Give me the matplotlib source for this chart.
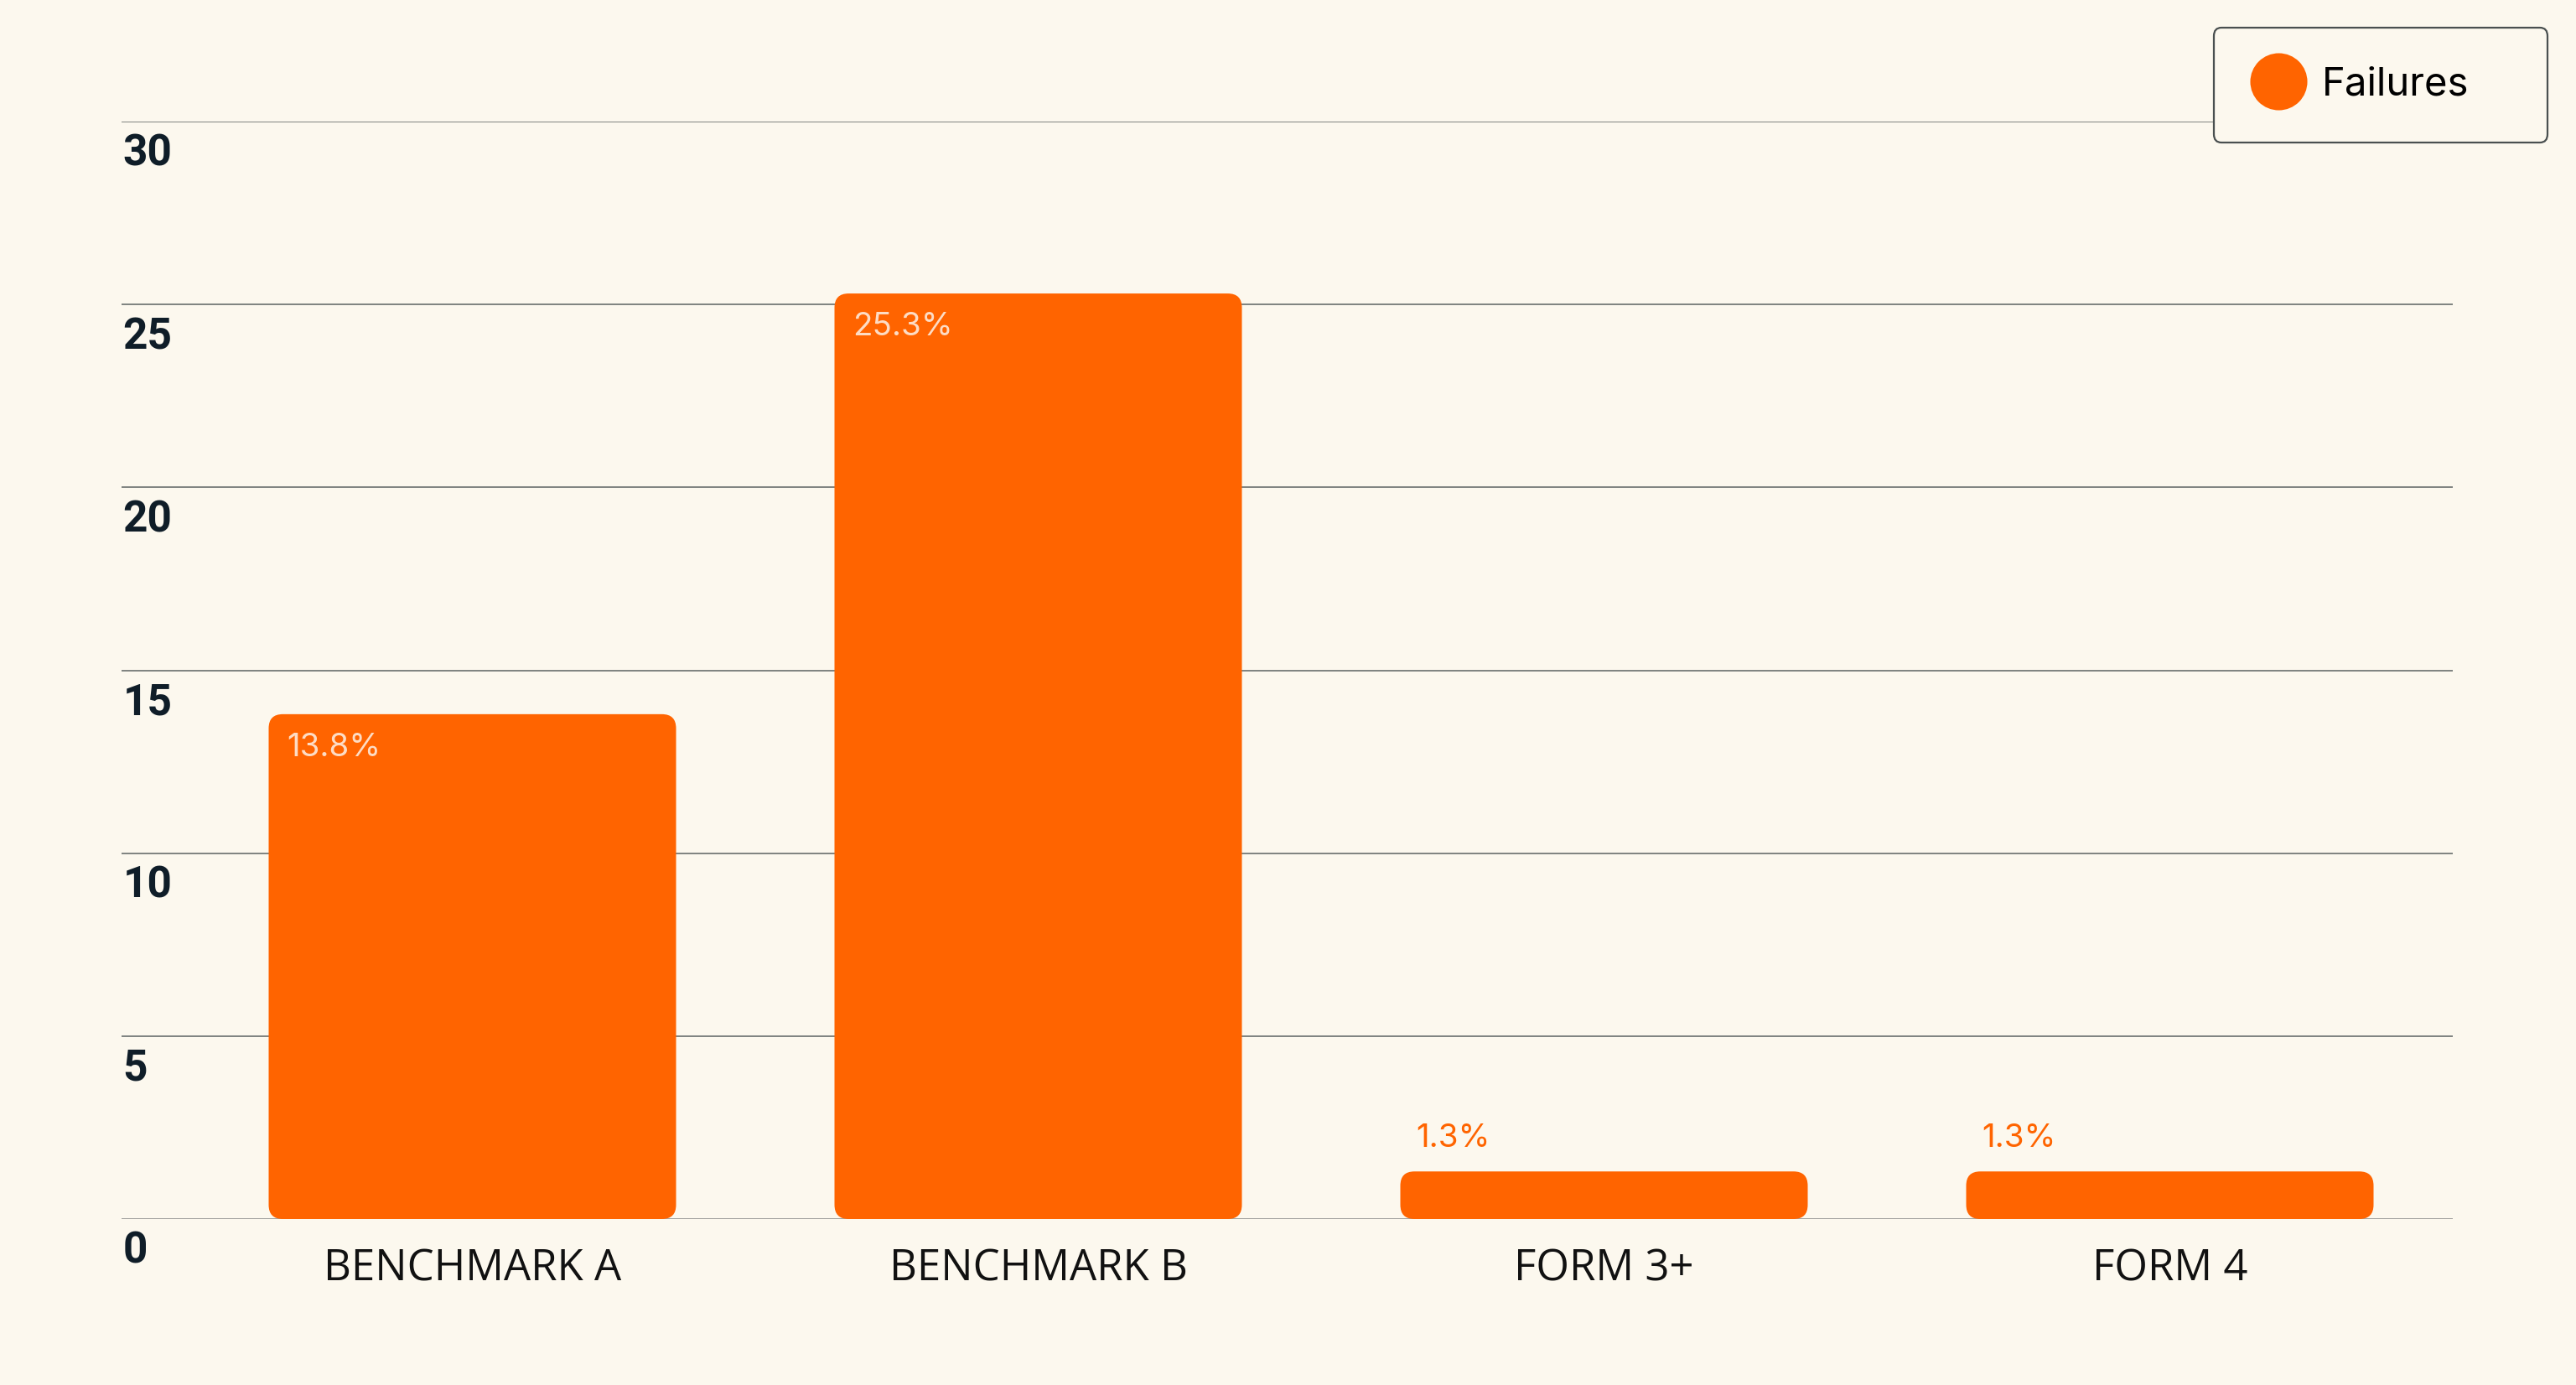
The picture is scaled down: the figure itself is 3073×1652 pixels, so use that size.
import matplotlib
matplotlib.use("Agg")
import matplotlib.pyplot as plt
from matplotlib.patches import FancyBboxPatch
from matplotlib.lines import Line2D

categories = ["BENCHMARK A", "BENCHMARK B", "FORM 3+", "FORM 4"]
failures = [13.8, 25.3, 1.3, 1.3]
yticks = [0, 5, 10, 15, 20, 25, 30]

BG = "#fcf8ee"
ORANGE = "#ff6400"
INK = "#0f1d28"

W, H, DPI = 3073, 1652, 200
fig = plt.figure(figsize=(W / DPI, H / DPI), dpi=DPI, facecolor=BG)
left, right, bottom, top = 145 / W, 2926 / W, 1 - 1454 / H, 1 - 145 / H
ax = fig.add_axes([left, bottom, right - left, top - bottom], facecolor=BG)

xlim = (-0.62, 3.5)
ylim = (0, 30)
ax.set_xlim(*xlim)
ax.set_ylim(*ylim)

# aspect so rounded corners look round in pixels
ax_w_px = (right - left) * W
ax_h_px = (top - bottom) * H
aspect = ((ylim[1] - ylim[0]) / ax_h_px) / ((xlim[1] - xlim[0]) / ax_w_px)

x = list(range(len(categories)))
bars = ax.bar(x, failures, width=0.72, color=ORANGE, zorder=3)
for rect, val in zip(bars, failures):
    bx, by, bw, bh = rect.get_x(), rect.get_y(), rect.get_width(), rect.get_height()
    rect.remove()
    patch = FancyBboxPatch((bx, by), bw, bh,
                           boxstyle="round,pad=0,rounding_size=0.025",
                           mutation_aspect=aspect, facecolor=ORANGE,
                           edgecolor="none", zorder=3)
    ax.add_patch(patch)
    # value labels: inside tall bars, above short ones
    if val > 5:
        ax.annotate(f"{val}%", xy=(bx, by + bh), xytext=(7.8, -7.8),
                    textcoords="offset points", ha="left", va="top",
                    fontsize=13.9, family="Inter", color="#fddcc5", zorder=4)
    else:
        ax.annotate(f"{val}%", xy=(bx, by + bh), xytext=(6.8, 7.5),
                    textcoords="offset points", ha="left", va="bottom",
                    fontsize=13.9, family="Inter", color=ORANGE, zorder=4)

# grid
ax.set_yticks(yticks)
ax.set_yticklabels([])
ax.yaxis.grid(True, color="#5c6262", linewidth=0.55, zorder=0)
ax.get_ygridlines()[0].set_color("#8c8c8c")
ax.set_axisbelow(True)
for s in ax.spines.values():
    s.set_visible(False)
ax.tick_params(axis="both", length=0)

# y labels sit just under each gridline
for v in yticks:
    ax.annotate(str(v), xy=(0, v), xycoords=("axes fraction", "data"),
                xytext=(0.5, -5.0), textcoords="offset points",
                ha="left", va="top", fontsize=18.5, family="Roboto",
                fontweight="bold", color=INK)

ax.set_xticks(x)
ax.set_xticklabels(categories, fontsize=18.3, family="Open Sans", color="#111111")
ax.tick_params(axis="x", pad=12.5)

handle = Line2D([], [], marker="o", linestyle="", markersize=24.5,
                color=ORANGE, markeredgewidth=0)
leg = fig.legend([handle], ["Failures"], loc="upper left",
                 bbox_to_anchor=(2641 / W, 1 - 35 / H, 398 / W, 0.001),
                 mode="expand", frameon=True, fancybox=True,
                 prop={"family": "Inter", "size": 17.0},
                 borderpad=0.98, handlelength=1.3, handletextpad=0.45,
                 borderaxespad=0)
frame = leg.get_frame()
frame.set_facecolor(BG)
frame.set_edgecolor("#4a5050")
frame.set_linewidth(0.8)
frame.set_alpha(1)

fig.savefig("out.png", dpi=DPI, facecolor=BG)
